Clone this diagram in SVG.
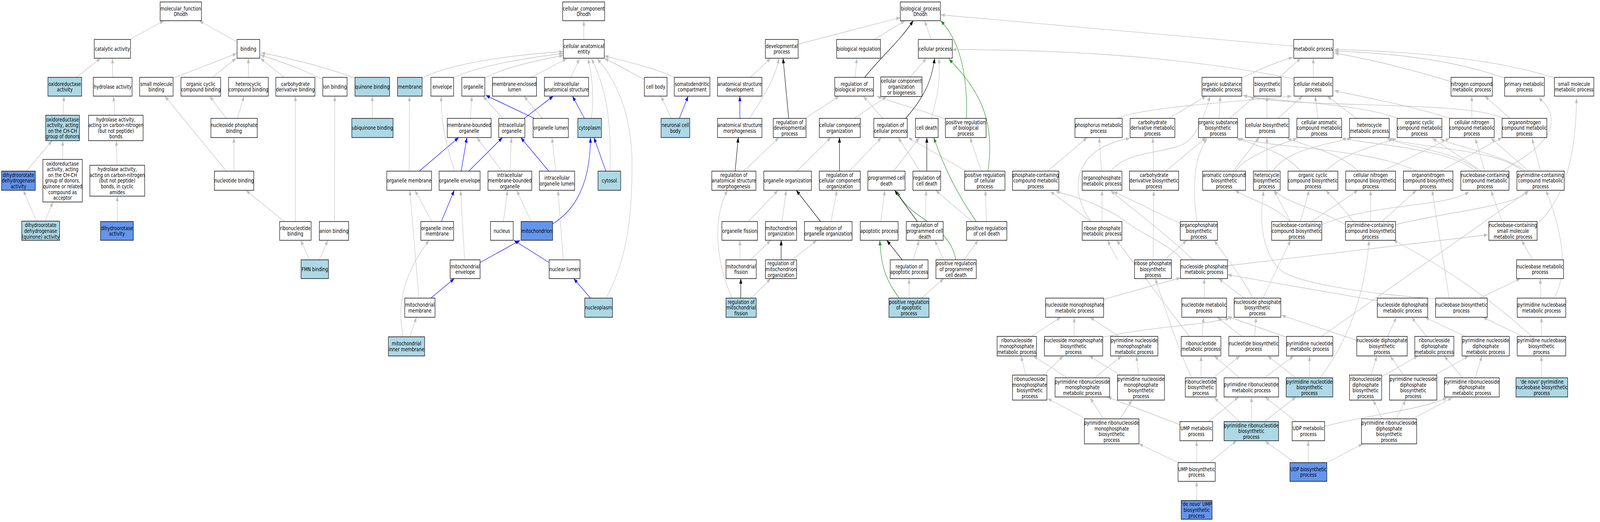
<svg xmlns="http://www.w3.org/2000/svg" width="5061" height="1336" viewBox="0 0 5061 1336">
<style>
.n rect{fill:#fff;stroke:#000;stroke-width:1.4}
.lb rect{fill:#add8e6}
.cb rect{fill:#6495ed}
text{font-family:'DejaVu Sans','Liberation Sans',sans-serif;font-size:13.5px;text-anchor:middle;fill:#000}
.e{fill:none;stroke:#c0c0c0;stroke-width:1.33;marker-end:url(#ag)}
.eb{fill:none;stroke:#0000ff;stroke-width:1.33;marker-end:url(#ab)}
.ek{fill:none;stroke:#000;stroke-width:1.33;marker-end:url(#ak)}
.eg{fill:none;stroke:#228b22;stroke-width:1.33;marker-end:url(#agr)}
</style>
<defs>
<marker id="ag" viewBox="0 0 13 9.4" refX="13" refY="4.7" markerWidth="13" markerHeight="9.4" markerUnits="userSpaceOnUse" orient="auto"><path d="M0,0L13,4.7L0,9.4z" fill="#c0c0c0"/></marker>
<marker id="ab" viewBox="0 0 13 9.4" refX="13" refY="4.7" markerWidth="13" markerHeight="9.4" markerUnits="userSpaceOnUse" orient="auto"><path d="M0,0L13,4.7L0,9.4z" fill="#0000ff"/></marker>
<marker id="ak" viewBox="0 0 13 9.4" refX="13" refY="4.7" markerWidth="13" markerHeight="9.4" markerUnits="userSpaceOnUse" orient="auto"><path d="M0,0L13,4.7L0,9.4z" fill="#000"/></marker>
<marker id="agr" viewBox="0 0 13 9.4" refX="13" refY="4.7" markerWidth="13" markerHeight="9.4" markerUnits="userSpaceOnUse" orient="auto"><path d="M0,0L13,4.7L0,9.4z" fill="#228b22"/></marker>
</defs>
<rect width="5061" height="1336" fill="#fff"/>
<g id="diagram" transform="scale(0.807,1)">
<g id="edges">
<path class="e" d="M412,101L520,53"/>
<path class="e" d="M751,107L632,53"/>
<path class="e" d="M242,198L319,149"/>
<path class="e" d="M357,198L357,149"/>
<path class="e" d="M549,200L751,137"/>
<path class="e" d="M674,198L749,149"/>
<path class="e" d="M788,198L788,149"/>
<path class="e" d="M901,198L826,149"/>
<path class="e" d="M1024,204Q950,172 826,141"/>
<path class="e" d="M1126,200Q1000,162 828,135"/>
<path class="e" d="M1181,303L1181,246"/>
<path class="e" d="M200,295L203,246"/>
<path class="e" d="M365,295L360,246"/>
<path class="e" d="M718,303L665,246"/>
<path class="e" d="M753,303L774,246"/>
<path class="e" d="M84,438L165,360"/>
<path class="e" d="M199,408L199,360"/>
<path class="e" d="M371,423L369,360"/>
<path class="e" d="M718,438L523,246"/>
<path class="e" d="M742,438L742,352"/>
<path class="e" d="M116,566L74,487"/>
<path class="e" d="M143,566L168,517"/>
<path class="e" d="M372,567L372,502"/>
<path class="e" d="M902,567L780,487"/>
<path class="e" d="M937,567L937,246"/>
<path class="e" d="M982,665L954,615"/>
<path class="e" d="M1013,665L1040,615"/>
<path class="e" d="M1061,567L1062,246"/>
<path class="e" d="M1852,101L1852,53"/>
<path class="e" d="M1339,200C1420,165 1600,142 1787,132"/>
<path class="e" d="M1439,200C1500,172 1650,150 1787,137"/>
<path class="e" d="M1538,200C1590,175 1700,155 1787,142"/>
<path class="e" d="M1685,198L1798,150"/>
<path class="e" d="M1811,198L1838,150"/>
<path class="e" d="M1876,303C1885,250 1880,200 1865,150"/>
<path class="e" d="M1935,438C1940,300 1920,220 1876,150"/>
<path class="e" d="M1923,763C1990,660 2005,560 2005,420C2005,300 1960,210 1894,150"/>
<path class="e" d="M2139,198C2080,175 2000,160 1917,143"/>
<path class="e" d="M2044,204C2000,185 1960,165 1917,150"/>
<path class="e" d="M1595,303L1532,246"/>
<path class="eb" d="M1695,303L1541,244"/>
<path class="e" d="M1720,303L1662,246"/>
<path class="eb" d="M1663,303L1755,246"/>
<path class="eb" d="M1854,303L1816,246"/>
<path class="e" d="M1492,303L1497,246"/>
<path class="e" d="M1298,438L1299,246"/>
<path class="eb" d="M1330,438L1455,352"/>
<path class="eb" d="M1463,438L1481,352"/>
<path class="eb" d="M1487,438L1594,352"/>
<path class="e" d="M1442,438C1410,360 1398,300 1400,246"/>
<path class="e" d="M1592,438L1513,352"/>
<path class="e" d="M1618,438L1622,352"/>
<path class="eb" d="M1741,438L1652,352"/>
<path class="e" d="M1763,438L1751,352"/>
<path class="eb" d="M1922,438L1884,352"/>
<path class="e" d="M1370,567L1316,487"/>
<path class="eb" d="M1400,567L1441,487"/>
<path class="e" d="M1597,567L1610,487"/>
<path class="e" d="M1685,567L1639,487"/>
<path class="eb" d="M1753,573C1840,530 1873,450 1873,352"/>
<path class="eb" d="M1523,672L1650,615"/>
<path class="eb" d="M1742,672L1630,615"/>
<path class="e" d="M1474,665L1461,487"/>
<path class="e" d="M1787,665L1770,487"/>
<path class="eb" d="M1873,763L1820,713"/>
<path class="eb" d="M1367,763L1441,713"/>
<path class="e" d="M1329,763L1300,487"/>
<path class="e" d="M1300,862L1321,812"/>
<path class="e" d="M1279,862C1255,770 1290,690 1361,615"/>
<path class="e" d="M2129,303L2097,246"/>
<path class="eb" d="M2155,303L2183,246"/>
<path class="e" d="M2532,113L2856,45"/>
<path class="e" d="M2773,101L2871,53"/>
<path class="e" d="M2954,101L2933,53"/>
<path class="e" d="M4104,118L2984,38"/>
<path class="ek" d="M2743,198C2800,140 2850,110 2897,53"/>
<path class="e" d="M2713,198L2718,149"/>
<path class="e" d="M2887,197L2939,149"/>
<path class="eg" d="M3066,303C3070,180 3040,100 2984,53"/>
<path class="e" d="M3000,305C2900,275 2830,262 2781,246"/>
<path class="e" d="M4105,202C3850,160 3500,127 3021,127"/>
<path class="e" d="M2380,198L2445,149"/>
<path class="eb" d="M2347,303L2347,246"/>
<path class="e" d="M2378,303C2420,250 2460,200 2471,149"/>
<path class="ek" d="M2502,303L2484,149"/>
<path class="e" d="M2554,303L2662,246"/>
<path class="e" d="M2710,303L2813,247"/>
<path class="e" d="M2800,303L2739,246"/>
<path class="ek" d="M2873,303C2930,250 2955,210 2965,149"/>
<path class="e" d="M2955,303C2975,240 2985,200 2978,149"/>
<path class="eg" d="M3134,438C3155,320 3120,240 3010,151"/>
<path class="e" d="M3113,438L3077,352"/>
<path class="e" d="M3065,438L2881,352"/>
<path class="ek" d="M2332,438L2342,352"/>
<path class="e" d="M2360,438L2471,352"/>
<path class="e" d="M2528,438L2636,352"/>
<path class="ek" d="M2663,438L2663,352"/>
<path class="e" d="M2694,438L2796,352"/>
<path class="e" d="M2834,438L2917,352"/>
<path class="ek" d="M2940,438L2940,352"/>
<path class="e" d="M2919,438L2849,352"/>
<path class="e" d="M3129,567L3126,487"/>
<path class="e" d="M3084,567L2968,487"/>
<path class="eg" d="M3097,567C3040,500 3000,440 2962,352"/>
<path class="e" d="M2374,567L2468,487"/>
<path class="e" d="M2481,567L2494,487"/>
<path class="ek" d="M2603,567L2526,487"/>
<path class="e" d="M2636,567L2655,487"/>
<path class="e" d="M2794,567L2807,487"/>
<path class="ek" d="M2910,567L2838,487"/>
<path class="e" d="M2935,567L2938,487"/>
<path class="eg" d="M3032,665C3010,570 2880,560 2846,489"/>
<path class="e" d="M2994,665L2965,615"/>
<path class="e" d="M3058,665L3103,615"/>
<path class="e" d="M2348,665L2347,615"/>
<path class="e" d="M2381,665L2445,615"/>
<path class="ek" d="M2478,665L2478,615"/>
<path class="e" d="M2513,665L2591,615"/>
<path class="e" d="M2323,763C2285,700 2270,620 2280,560C2285,530 2295,505 2308,487"/>
<path class="ek" d="M2350,763L2350,713"/>
<path class="e" d="M2383,763L2445,713"/>
<path class="e" d="M2897,665L2916,615"/>
<path class="ek" d="M2862,665L2813,615"/>
<path class="e" d="M2884,763L2884,713"/>
<path class="e" d="M2923,763L2994,713"/>
<path class="eg" d="M2852,763C2815,720 2795,690 2791,615"/>
<path class="e" d="M3939,200Q4040,160 4101,147"/>
<path class="e" d="M4058,198L4126,149"/>
<path class="e" d="M4166,198L4166,149"/>
<path class="e" d="M4603,209C4450,170 4300,145 4233,136"/>
<path class="e" d="M4773,200C4600,150 4400,135 4233,131"/>
<path class="e" d="M4931,200C4750,150 4450,130 4233,127"/>
<path class="e" d="M3545,303C3620,275 3900,262 4097,246"/>
<path class="e" d="M3708,303L3826,246"/>
<path class="e" d="M3867,303L3871,246"/>
<path class="e" d="M3900,303L3982,246"/>
<path class="e" d="M4019,303L4019,246"/>
<path class="e" d="M4054,303L4132,246"/>
<path class="e" d="M4181,303L4172,246"/>
<path class="e" d="M4304,303L4210,246"/>
<path class="e" d="M4434,303C4300,262 4050,262 3943,244"/>
<path class="e" d="M4770,303C4650,255 4100,280 3943,244"/>
<path class="e" d="M4600,303C4450,265 4300,245 4233,232"/>
<path class="e" d="M4669,303L4669,246"/>
<path class="e" d="M4790,303L4710,246"/>
<path class="e" d="M3323,438L3449,352"/>
<path class="e" d="M3494,438L3487,352"/>
<path class="e" d="M3524,438C3580,380 3720,395 3770,360C3810,330 3825,280 3839,246"/>
<path class="e" d="M3660,438L3657,352"/>
<path class="e" d="M3698,438L3826,352"/>
<path class="e" d="M3912,438L3994,352"/>
<path class="e" d="M3918,438C3960,395 4060,370 4115,354"/>
<path class="e" d="M4019,438L4019,352"/>
<path class="e" d="M4037,438C4080,385 4200,370 4287,354"/>
<path class="e" d="M4206,438C4260,390 4380,370 4430,354"/>
<path class="e" d="M4125,438C4080,390 3980,370 3922,354"/>
<path class="e" d="M4308,438C4250,390 4130,370 4083,354"/>
<path class="e" d="M4385,438L4599,354"/>
<path class="e" d="M4570,438L4765,352"/>
<path class="e" d="M4494,438C4350,380 4050,380 3929,354"/>
<path class="e" d="M4680,438C4600,380 4350,370 4256,354"/>
<path class="e" d="M4690,438C4620,385 4450,375 4400,354"/>
<path class="e" d="M4700,438L4544,354"/>
<path class="e" d="M4710,438L4680,354"/>
<path class="e" d="M4765,438C4840,400 4930,360 4920,300C4915,270 4890,258 4881,249"/>
<path class="e" d="M4830,438C4750,380 4500,380 4403,354"/>
<path class="e" d="M4840,438C4760,390 4600,375 4570,354"/>
<path class="e" d="M4850,438L4730,354"/>
<path class="e" d="M4887,438L4860,354"/>
<path class="e" d="M3496,567L3496,487"/>
<path class="e" d="M3461,567C3390,490 3400,380 3584,354"/>
<path class="e" d="M3461,567L3332,490"/>
<path class="e" d="M3744,572L3532,490"/>
<path class="e" d="M3797,567C3780,470 3790,400 3829,354"/>
<path class="e" d="M4094,567L4041,487"/>
<path class="e" d="M4094,567C4030,520 3960,510 3918,487"/>
<path class="e" d="M4125,567L4153,487"/>
<path class="e" d="M4160,567L4308,487"/>
<path class="e" d="M4193,575C4350,520 4600,530 4660,490"/>
<path class="e" d="M4348,567L4348,487"/>
<path class="e" d="M4384,567L4493,487"/>
<path class="e" d="M4293,567C4250,520 4220,500 4206,487"/>
<path class="e" d="M4268,575C4200,540 4080,520 4041,487"/>
<path class="e" d="M4427,575C4600,540 4800,530 4849,489"/>
<path class="e" d="M4765,567L4730,488"/>
<path class="e" d="M4876,573C4950,520 5000,420 5001,251"/>
<path class="e" d="M3545,665L3513,615"/>
<path class="e" d="M3658,665L3660,488"/>
<path class="e" d="M3694,665L3765,615"/>
<path class="e" d="M3785,665C3700,600 3600,540 3523,488"/>
<path class="e" d="M3894,680L4720,601"/>
<path class="e" d="M3752,665C3700,620 3620,600 3560,560C3480,520 3420,505 3349,490"/>
<path class="e" d="M4862,665L4827,615"/>
<path class="e" d="M3502,766L3745,711"/>
<path class="e" d="M3820,763L3820,713"/>
<path class="e" d="M3946,763L3866,713"/>
<path class="e" d="M3974,763C3950,720 3880,650 3852,615"/>
<path class="e" d="M4006,763L4094,615"/>
<path class="e" d="M4371,770L3894,703"/>
<path class="e" d="M4694,763L4823,713"/>
<path class="e" d="M4597,763L4543,487"/>
<path class="e" d="M4557,765C4300,750 4100,720 4060,690C4000,640 3995,560 4009,488"/>
<path class="e" d="M4888,763L4886,713"/>
<path class="e" d="M4930,763C4975,700 4960,600 4904,487"/>
<path class="e" d="M3271,861L3365,812"/>
<path class="e" d="M3407,861L3408,812"/>
<path class="e" d="M3498,863C3700,830 3800,835 3901,814"/>
<path class="e" d="M3549,861L3458,812"/>
<path class="e" d="M3813,861L3818,812"/>
<path class="e" d="M3773,861L3542,615"/>
<path class="e" d="M3939,861L3862,812"/>
<path class="e" d="M3980,861L3985,812"/>
<path class="e" d="M4081,863L3894,810"/>
<path class="e" d="M4192,861L4849,488"/>
<path class="e" d="M4401,861L4430,812"/>
<path class="e" d="M4304,871L4065,807"/>
<path class="e" d="M4525,861L4478,812"/>
<path class="e" d="M4648,861L4520,812"/>
<path class="e" d="M4890,861L4890,812"/>
<path class="e" d="M4830,861L4704,812"/>
<path class="e" d="M4859,861C4750,780 4600,690 4420,615"/>
<path class="e" d="M3254,960L3239,911"/>
<path class="e" d="M3310,960L3373,911"/>
<path class="e" d="M3385,967L3278,911"/>
<path class="e" d="M3473,967L3558,911"/>
<path class="e" d="M3554,960L3455,911"/>
<path class="e" d="M3612,960L3605,911"/>
<path class="e" d="M3810,967L3810,911"/>
<path class="e" d="M3849,967L3933,911"/>
<path class="e" d="M3781,967C3740,900 3700,800 3665,713"/>
<path class="e" d="M3932,967L3852,911"/>
<path class="e" d="M4011,967L4104,911"/>
<path class="e" d="M4154,967L4154,911"/>
<path class="e" d="M4111,967L4021,911"/>
<path class="e" d="M4188,967C4270,880 4330,760 4343,615"/>
<path class="e" d="M4349,960L4368,911"/>
<path class="e" d="M4383,964L4498,911"/>
<path class="e" d="M4452,960L4410,911"/>
<path class="e" d="M4552,960L4659,911"/>
<path class="e" d="M4640,967L4581,911"/>
<path class="e" d="M4680,967L4701,911"/>
<path class="e" d="M4890,967L4890,911"/>
<path class="e" d="M3445,1072L3323,1020"/>
<path class="e" d="M3500,1072L3458,1018"/>
<path class="e" d="M3553,1072L3591,1024"/>
<path class="e" d="M3743,1087L3513,1016"/>
<path class="e" d="M3834,1079L3929,1016"/>
<path class="e" d="M3932,1079L3852,1018"/>
<path class="e" d="M3970,1079L3970,1016"/>
<path class="e" d="M4011,1079L4111,1016"/>
<path class="e" d="M4111,1079L4013,1016"/>
<path class="e" d="M4202,1091C4350,1060 4500,1050 4591,1018"/>
<path class="e" d="M4385,1072L4356,1024"/>
<path class="e" d="M4430,1072L4459,1024"/>
<path class="e" d="M4481,1072L4607,1018"/>
<path class="e" d="M3737,1184L3613,1136"/>
<path class="e" d="M3796,1184L3796,1128"/>
<path class="e" d="M3836,1184L3923,1128"/>
<path class="e" d="M4150,1184L4150,1128"/>
<path class="e" d="M4209,1184L4323,1136"/>
<path class="e" d="M4108,1184L4013,1129"/>
<path class="e" d="M3796,1281L3796,1232"/>
</g>
<g id="n_mf" class="n"><rect x="508" y="5" width="131" height="48"/><text x="573.5" y="26.7">molecular_function<tspan x="573.5" dy="14.6">Dhodh</tspan></text></g>
<g id="n_catalytic" class="n"><rect x="299" y="101" width="115" height="48"/><text x="356.5" y="130">catalytic activity</text></g>
<g id="n_binding" class="n"><rect x="752" y="101" width="72" height="48"/><text x="788" y="130">binding</text></g>
<g id="n_oxido" class="n lb"><rect x="152" y="198" width="107" height="48"/><text x="205.5" y="219.7">oxidoreductase<tspan x="205.5" dy="14.6">activity</tspan></text></g>
<g id="n_hydrolase" class="n"><rect x="296" y="198" width="123" height="48"/><text x="357.5" y="227">hydrolase activity</text></g>
<g id="n_smb" class="n"><rect x="443" y="198" width="106" height="48"/><text x="496" y="219.7">small molecule<tspan x="496" dy="14.6">binding</tspan></text></g>
<g id="n_occb" class="n"><rect x="574" y="198" width="126" height="48"/><text x="637" y="219.7">organic cyclic<tspan x="637" dy="14.6">compound binding</tspan></text></g>
<g id="n_hcb" class="n"><rect x="725" y="198" width="126" height="48"/><text x="788" y="219.7">heterocyclic<tspan x="788" dy="14.6">compound binding</tspan></text></g>
<g id="n_cdb" class="n"><rect x="875" y="198" width="124" height="48"/><text x="937" y="219.7">carbohydrate<tspan x="937" dy="14.6">derivative binding</tspan></text></g>
<g id="n_ionb" class="n"><rect x="1024" y="198" width="77" height="48"/><text x="1062.5" y="227">ion binding</text></g>
<g id="n_quinb" class="n lb"><rect x="1126" y="198" width="110" height="48"/><text x="1181" y="227">quinone binding</text></g>
<g id="n_oxchch" class="n lb"><rect x="145" y="295" width="107" height="65"/><text x="198.5" y="310.6">oxidoreductase<tspan x="198.5" dy="14.6">activity, acting</tspan><tspan x="198.5" dy="14.6">on the CH-CH</tspan><tspan x="198.5" dy="14.6">group of donors</tspan></text></g>
<g id="n_hydcn" class="n"><rect x="281" y="295" width="173" height="65"/><text x="367.5" y="310.6">hydrolase activity,<tspan x="367.5" dy="14.6">acting on carbon-nitrogen</tspan><tspan x="367.5" dy="14.6">(but not peptide)</tspan><tspan x="367.5" dy="14.6">bonds</tspan></text></g>
<g id="n_npb" class="n"><rect x="669" y="303" width="147" height="49"/><text x="742.5" y="325.2">nucleoside phosphate<tspan x="742.5" dy="14.6">binding</tspan></text></g>
<g id="n_ubqb" class="n lb"><rect x="1116" y="303" width="131" height="49"/><text x="1181.5" y="332.5">ubiquinone binding</text></g>
<g id="n_dhod" class="n cb"><rect x="5" y="438" width="107" height="49"/><text x="58.5" y="452.9">dihydroorotate<tspan x="58.5" dy="14.6">dehydrogenase</tspan><tspan x="58.5" dy="14.6">activity</tspan></text></g>
<g id="n_oxq" class="n"><rect x="136" y="408" width="125" height="109"/><text x="198.5" y="423.7">oxidoreductase<tspan x="198.5" dy="14.6">activity, acting</tspan><tspan x="198.5" dy="14.6">on the CH-CH</tspan><tspan x="198.5" dy="14.6">group of donors,</tspan><tspan x="198.5" dy="14.6">quinone or related</tspan><tspan x="198.5" dy="14.6">compound as</tspan><tspan x="198.5" dy="14.6">acceptor</tspan></text></g>
<g id="n_hydcyc" class="n"><rect x="285" y="423" width="174" height="79"/><text x="372" y="438.3">hydrolase activity,<tspan x="372" dy="14.6">acting on carbon-nitrogen</tspan><tspan x="372" dy="14.6">(but not peptide)</tspan><tspan x="372" dy="14.6">bonds, in cyclic</tspan><tspan x="372" dy="14.6">amides</tspan></text></g>
<g id="n_ntb" class="n"><rect x="680" y="438" width="125" height="49"/><text x="742.5" y="467.5">nucleotide binding</text></g>
<g id="n_dhodq" class="n lb"><rect x="69" y="566" width="120" height="49"/><text x="129" y="581.4">dihydroorotate<tspan x="129" dy="14.6">dehydrogenase</tspan><tspan x="129" dy="14.6">(quinone) activity</tspan></text></g>
<g id="n_dhoase" class="n cb"><rect x="319" y="567" width="104" height="48"/><text x="371" y="588.7">dihydroorotase<tspan x="371" dy="14.6">activity</tspan></text></g>
<g id="n_rnb" class="n"><rect x="887" y="567" width="100" height="48"/><text x="937" y="588.7">ribonucleotide<tspan x="937" dy="14.6">binding</tspan></text></g>
<g id="n_anb" class="n"><rect x="1013" y="567" width="93" height="48"/><text x="1059.5" y="596">anion binding</text></g>
<g id="n_fmn" class="n lb"><rect x="955" y="665" width="87" height="48"/><text x="998.5" y="694">FMN binding</text></g>
<g id="n_cc" class="n"><rect x="1785" y="5" width="133" height="48"/><text x="1851.5" y="26.7">cellular_component<tspan x="1851.5" dy="14.6">Dhodh</tspan></text></g>
<g id="n_cae" class="n"><rect x="1787" y="101" width="130" height="48"/><text x="1852" y="122.7">cellular anatomical<tspan x="1852" dy="14.6">entity</tspan></text></g>
<g id="n_membrane" class="n lb"><rect x="1261" y="198" width="78" height="48"/><text x="1300" y="227">membrane</text></g>
<g id="n_envelope" class="n"><rect x="1367" y="198" width="72" height="48"/><text x="1403" y="227">envelope</text></g>
<g id="n_organelle" class="n"><rect x="1465" y="198" width="73" height="48"/><text x="1501.5" y="227">organelle</text></g>
<g id="n_mel" class="n"><rect x="1562" y="198" width="140" height="48"/><text x="1632" y="219.7">membrane-enclosed<tspan x="1632" dy="14.6">lumen</tspan></text></g>
<g id="n_ias" class="n"><rect x="1727" y="198" width="140" height="48"/><text x="1797" y="219.7">intracellular<tspan x="1797" dy="14.6">anatomical structure</tspan></text></g>
<g id="n_cellbody" class="n"><rect x="2044" y="198" width="72" height="48"/><text x="2080" y="227">cell body</text></g>
<g id="n_somato" class="n"><rect x="2139" y="198" width="113" height="48"/><text x="2195.5" y="219.7">somatodendritic<tspan x="2195.5" dy="14.6">compartment</tspan></text></g>
<g id="n_mbo" class="n"><rect x="1419" y="303" width="139" height="49"/><text x="1488.5" y="325.2">membrane-bounded<tspan x="1488.5" dy="14.6">organelle</tspan></text></g>
<g id="n_io" class="n"><rect x="1582" y="303" width="83" height="49"/><text x="1623.5" y="325.2">intracellular<tspan x="1623.5" dy="14.6">organelle</tspan></text></g>
<g id="n_orglumen" class="n"><rect x="1691" y="303" width="112" height="49"/><text x="1747" y="332.5">organelle lumen</text></g>
<g id="n_cytoplasm" class="n lb"><rect x="1833" y="303" width="75" height="49"/><text x="1870.5" y="332.5">cytoplasm</text></g>
<g id="n_ncb" class="n lb"><rect x="2097" y="303" width="91" height="49"/><text x="2142.5" y="325.2">neuronal cell<tspan x="2142.5" dy="14.6">body</tspan></text></g>
<g id="n_orgmem" class="n"><rect x="1227" y="438" width="142" height="49"/><text x="1298" y="467.5">organelle membrane</text></g>
<g id="n_orgenv" class="n"><rect x="1393" y="438" width="130" height="49"/><text x="1458" y="467.5">organelle envelope</text></g>
<g id="n_imbo" class="n"><rect x="1548" y="438" width="139" height="49"/><text x="1617.5" y="452.9">intracellular<tspan x="1617.5" dy="14.6">membrane-bounded</tspan><tspan x="1617.5" dy="14.6">organelle</tspan></text></g>
<g id="n_iol" class="n"><rect x="1711" y="438" width="112" height="49"/><text x="1767" y="460.2">intracellular<tspan x="1767" dy="14.6">organelle lumen</tspan></text></g>
<g id="n_cytosol" class="n lb"><rect x="1897" y="438" width="72" height="49"/><text x="1933" y="467.5">cytosol</text></g>
<g id="n_oim" class="n"><rect x="1335" y="567" width="104" height="48"/><text x="1387" y="588.7">organelle inner<tspan x="1387" dy="14.6">membrane</tspan></text></g>
<g id="n_nucleus" class="n"><rect x="1556" y="567" width="72" height="48"/><text x="1592" y="596">nucleus</text></g>
<g id="n_mito" class="n cb"><rect x="1653" y="567" width="100" height="48"/><text x="1703" y="596">mitochondrion</text></g>
<g id="n_mitoenv" class="n"><rect x="1428" y="665" width="95" height="48"/><text x="1475.5" y="686.7">mitochondrial<tspan x="1475.5" dy="14.6">envelope</tspan></text></g>
<g id="n_nuclumen" class="n"><rect x="1742" y="665" width="98" height="48"/><text x="1791" y="694">nuclear lumen</text></g>
<g id="n_mitomem" class="n"><rect x="1284" y="763" width="96" height="49"/><text x="1332" y="785.2">mitochondrial<tspan x="1332" dy="14.6">membrane</tspan></text></g>
<g id="n_nucleoplasm" class="n lb"><rect x="1855" y="763" width="88" height="49"/><text x="1899" y="792.5">nucleoplasm</text></g>
<g id="n_mim" class="n lb"><rect x="1232" y="862" width="115" height="49"/><text x="1289.5" y="884.2">mitochondrial<tspan x="1289.5" dy="14.6">inner membrane</tspan></text></g>
<g id="n_bp" class="n"><rect x="2856" y="5" width="127" height="48"/><text x="2919.5" y="26.7">biological_process<tspan x="2919.5" dy="14.6">Dhodh</tspan></text></g>
<g id="n_devp" class="n"><rect x="2428" y="101" width="104" height="48"/><text x="2480" y="122.7">developmental<tspan x="2480" dy="14.6">process</tspan></text></g>
<g id="n_bioreg" class="n"><rect x="2654" y="101" width="139" height="48"/><text x="2723.5" y="130">biological regulation</text></g>
<g id="n_cellp" class="n"><rect x="2913" y="101" width="108" height="48"/><text x="2967" y="130">cellular process</text></g>
<g id="n_metp" class="n"><rect x="4104" y="101" width="125" height="48"/><text x="4166.5" y="130">metabolic process</text></g>
<g id="n_asd" class="n"><rect x="2276" y="198" width="141" height="48"/><text x="2346.5" y="219.7">anatomical structure<tspan x="2346.5" dy="14.6">development</tspan></text></g>
<g id="n_rbp" class="n"><rect x="2648" y="198" width="123" height="48"/><text x="2709.5" y="219.7">regulation of<tspan x="2709.5" dy="14.6">biological process</tspan></text></g>
<g id="n_ccoob" class="n"><rect x="2794" y="197" width="131" height="50"/><text x="2859.5" y="212.4">cellular component<tspan x="2859.5" dy="14.6">organization</tspan><tspan x="2859.5" dy="14.6">or biogenesis</tspan></text></g>
<g id="n_osmp" class="n"><rect x="3813" y="198" width="126" height="48"/><text x="3876" y="219.7">organic substance<tspan x="3876" dy="14.6">metabolic process</tspan></text></g>
<g id="n_biosyn" class="n"><rect x="3977" y="198" width="87" height="48"/><text x="4020.5" y="219.7">biosynthetic<tspan x="4020.5" dy="14.6">process</tspan></text></g>
<g id="n_cmp" class="n"><rect x="4105" y="198" width="123" height="48"/><text x="4166.5" y="219.7">cellular metabolic<tspan x="4166.5" dy="14.6">process</tspan></text></g>
<g id="n_ncmp" class="n"><rect x="4603" y="198" width="131" height="48"/><text x="4668.5" y="219.7">nitrogen compound<tspan x="4668.5" dy="14.6">metabolic process</tspan></text></g>
<g id="n_pmp" class="n"><rect x="4773" y="198" width="126" height="48"/><text x="4836" y="219.7">primary metabolic<tspan x="4836" dy="14.6">process</tspan></text></g>
<g id="n_smmp" class="n"><rect x="4931" y="198" width="125" height="48"/><text x="4993.5" y="219.7">small molecule<tspan x="4993.5" dy="14.6">metabolic process</tspan></text></g>
<g id="n_asm" class="n"><rect x="2276" y="303" width="141" height="49"/><text x="2346.5" y="325.2">anatomical structure<tspan x="2346.5" dy="14.6">morphogenesis</tspan></text></g>
<g id="n_rdp" class="n"><rect x="2453" y="303" width="104" height="49"/><text x="2505" y="317.9">regulation of<tspan x="2505" dy="14.6">developmental</tspan><tspan x="2505" dy="14.6">process</tspan></text></g>
<g id="n_cco" class="n"><rect x="2599" y="303" width="130" height="49"/><text x="2664" y="325.2">cellular component<tspan x="2664" dy="14.6">organization</tspan></text></g>
<g id="n_rcp" class="n"><rect x="2772" y="303" width="106" height="49"/><text x="2825" y="325.2">regulation of<tspan x="2825" dy="14.6">cellular process</tspan></text></g>
<g id="n_celldeath" class="n"><rect x="2904" y="303" width="72" height="49"/><text x="2940" y="332.5">cell death</text></g>
<g id="n_prbp" class="n"><rect x="2999" y="303" width="129" height="49"/><text x="3063.5" y="317.9">positive regulation<tspan x="3063.5" dy="14.6">of biological</tspan><tspan x="3063.5" dy="14.6">process</tspan></text></g>
<g id="n_phosmp" class="n"><rect x="3410" y="303" width="150" height="49"/><text x="3485" y="325.2">phosphorus metabolic<tspan x="3485" dy="14.6">process</tspan></text></g>
<g id="n_cdmp" class="n"><rect x="3585" y="303" width="142" height="49"/><text x="3656" y="317.9">carbohydrate<tspan x="3656" dy="14.6">derivative metabolic</tspan><tspan x="3656" dy="14.6">process</tspan></text></g>
<g id="n_osbp" class="n"><rect x="3802" y="303" width="124" height="49"/><text x="3864" y="317.9">organic substance<tspan x="3864" dy="14.6">biosynthetic</tspan><tspan x="3864" dy="14.6">process</tspan></text></g>
<g id="n_cbp" class="n"><rect x="3951" y="303" width="138" height="49"/><text x="4020" y="325.2">cellular biosynthetic<tspan x="4020" dy="14.6">process</tspan></text></g>
<g id="n_cacmp" class="n"><rect x="4114" y="303" width="142" height="49"/><text x="4185" y="317.9">cellular aromatic<tspan x="4185" dy="14.6">compound metabolic</tspan><tspan x="4185" dy="14.6">process</tspan></text></g>
<g id="n_hmp" class="n"><rect x="4281" y="303" width="126" height="49"/><text x="4344" y="325.2">heterocycle<tspan x="4344" dy="14.6">metabolic process</tspan></text></g>
<g id="n_occmp" class="n"><rect x="4432" y="303" width="142" height="49"/><text x="4503" y="317.9">organic cyclic<tspan x="4503" dy="14.6">compound metabolic</tspan><tspan x="4503" dy="14.6">process</tspan></text></g>
<g id="n_cncmp" class="n"><rect x="4598" y="303" width="142" height="49"/><text x="4669" y="317.9">cellular nitrogen<tspan x="4669" dy="14.6">compound metabolic</tspan><tspan x="4669" dy="14.6">process</tspan></text></g>
<g id="n_oncmp" class="n"><rect x="4765" y="303" width="142" height="49"/><text x="4836" y="317.9">organonitrogen<tspan x="4836" dy="14.6">compound metabolic</tspan><tspan x="4836" dy="14.6">process</tspan></text></g>
<g id="n_rasm" class="n"><rect x="2258" y="438" width="140" height="49"/><text x="2328" y="452.9">regulation of<tspan x="2328" dy="14.6">anatomical structure</tspan><tspan x="2328" dy="14.6">morphogenesis</tspan></text></g>
<g id="n_oo" class="n"><rect x="2423" y="438" width="151" height="49"/><text x="2498.5" y="467.5">organelle organization</text></g>
<g id="n_rcco" class="n"><rect x="2599" y="438" width="130" height="49"/><text x="2664" y="452.9">regulation of<tspan x="2664" dy="14.6">cellular component</tspan><tspan x="2664" dy="14.6">organization</tspan></text></g>
<g id="n_pcd" class="n"><rect x="2753" y="438" width="118" height="49"/><text x="2812" y="460.2">programmed cell<tspan x="2812" dy="14.6">death</tspan></text></g>
<g id="n_rcd" class="n"><rect x="2896" y="438" width="88" height="49"/><text x="2940" y="460.2">regulation of<tspan x="2940" dy="14.6">cell death</tspan></text></g>
<g id="n_prcp" class="n"><rect x="3060" y="438" width="128" height="49"/><text x="3124" y="452.9">positive regulation<tspan x="3124" dy="14.6">of cellular</tspan><tspan x="3124" dy="14.6">process</tspan></text></g>
<g id="n_pccmp" class="n"><rect x="3212" y="438" width="147" height="49"/><text x="3285.5" y="452.9">phosphate-containing<tspan x="3285.5" dy="14.6">compound metabolic</tspan><tspan x="3285.5" dy="14.6">process</tspan></text></g>
<g id="n_opmp" class="n"><rect x="3433" y="438" width="126" height="49"/><text x="3496" y="460.2">organophosphate<tspan x="3496" dy="14.6">metabolic process</tspan></text></g>
<g id="n_cdbp" class="n"><rect x="3583" y="438" width="156" height="49"/><text x="3661" y="452.9">carbohydrate<tspan x="3661" dy="14.6">derivative biosynthetic</tspan><tspan x="3661" dy="14.6">process</tspan></text></g>
<g id="n_acbp" class="n"><rect x="3815" y="438" width="136" height="49"/><text x="3883" y="452.9">aromatic compound<tspan x="3883" dy="14.6">biosynthetic</tspan><tspan x="3883" dy="14.6">process</tspan></text></g>
<g id="n_hbp" class="n"><rect x="3976" y="438" width="85" height="49"/><text x="4018.5" y="452.9">heterocycle<tspan x="4018.5" dy="14.6">biosynthetic</tspan><tspan x="4018.5" dy="14.6">process</tspan></text></g>
<g id="n_occbp" class="n"><rect x="4086" y="438" width="158" height="49"/><text x="4165" y="452.9">organic cyclic<tspan x="4165" dy="14.6">compound biosynthetic</tspan><tspan x="4165" dy="14.6">process</tspan></text></g>
<g id="n_cncbp" class="n"><rect x="4269" y="438" width="158" height="49"/><text x="4348" y="452.9">cellular nitrogen<tspan x="4348" dy="14.6">compound biosynthetic</tspan><tspan x="4348" dy="14.6">process</tspan></text></g>
<g id="n_oncbp" class="n"><rect x="4452" y="438" width="157" height="49"/><text x="4530.5" y="452.9">organonitrogen<tspan x="4530.5" dy="14.6">compound biosynthetic</tspan><tspan x="4530.5" dy="14.6">process</tspan></text></g>
<g id="n_nccmp" class="n"><rect x="4634" y="438" width="153" height="49"/><text x="4710.5" y="452.9">nucleobase-containing<tspan x="4710.5" dy="14.6">compound metabolic</tspan><tspan x="4710.5" dy="14.6">process</tspan></text></g>
<g id="n_pyccmp" class="n"><rect x="4812" y="438" width="150" height="49"/><text x="4887" y="452.9">pyrimidine-containing<tspan x="4887" dy="14.6">compound metabolic</tspan><tspan x="4887" dy="14.6">process</tspan></text></g>
<g id="n_of" class="n"><rect x="2290" y="567" width="113" height="48"/><text x="2346.5" y="596">organelle fission</text></g>
<g id="n_mo" class="n"><rect x="2428" y="567" width="99" height="48"/><text x="2477.5" y="588.7">mitochondrion<tspan x="2477.5" dy="14.6">organization</tspan></text></g>
<g id="n_roo" class="n"><rect x="2552" y="567" width="151" height="48"/><text x="2627.5" y="588.7">regulation of<tspan x="2627.5" dy="14.6">organelle organization</tspan></text></g>
<g id="n_ap" class="n"><rect x="2729" y="567" width="120" height="48"/><text x="2789" y="596">apoptotic process</text></g>
<g id="n_rpcd" class="n"><rect x="2875" y="567" width="117" height="48"/><text x="2933.5" y="581.4">regulation of<tspan x="2933.5" dy="14.6">programmed cell</tspan><tspan x="2933.5" dy="14.6">death</tspan></text></g>
<g id="n_prcd" class="n"><rect x="3066" y="567" width="128" height="48"/><text x="3130" y="588.7">positive regulation<tspan x="3130" dy="14.6">of cell death</tspan></text></g>
<g id="n_rpmp" class="n"><rect x="3433" y="567" width="126" height="48"/><text x="3496" y="588.7">ribose phosphate<tspan x="3496" dy="14.6">metabolic process</tspan></text></g>
<g id="n_opbp" class="n"><rect x="3744" y="567" width="118" height="48"/><text x="3803" y="581.4">organophosphate<tspan x="3803" dy="14.6">biosynthetic</tspan><tspan x="3803" dy="14.6">process</tspan></text></g>
<g id="n_ncbp" class="n"><rect x="4034" y="567" width="159" height="48"/><text x="4113.5" y="581.4">nucleobase-containing<tspan x="4113.5" dy="14.6">compound biosynthetic</tspan><tspan x="4113.5" dy="14.6">process</tspan></text></g>
<g id="n_pcbp" class="n"><rect x="4268" y="567" width="159" height="48"/><text x="4347.5" y="581.4">pyrimidine-containing<tspan x="4347.5" dy="14.6">compound biosynthetic</tspan><tspan x="4347.5" dy="14.6">process</tspan></text></g>
<g id="n_ncsmmp" class="n"><rect x="4723" y="567" width="153" height="48"/><text x="4799.5" y="581.4">nucleobase-containing<tspan x="4799.5" dy="14.6">small molecule</tspan><tspan x="4799.5" dy="14.6">metabolic process</tspan></text></g>
<g id="n_mfis" class="n"><rect x="2303" y="665" width="96" height="48"/><text x="2351" y="686.7">mitochondrial<tspan x="2351" dy="14.6">fission</tspan></text></g>
<g id="n_rmo" class="n"><rect x="2428" y="665" width="99" height="48"/><text x="2477.5" y="679.4">regulation of<tspan x="2477.5" dy="14.6">mitochondrion</tspan><tspan x="2477.5" dy="14.6">organization</tspan></text></g>
<g id="n_rap" class="n"><rect x="2824" y="665" width="120" height="48"/><text x="2884" y="686.7">regulation of<tspan x="2884" dy="14.6">apoptotic process</tspan></text></g>
<g id="n_prpcd" class="n"><rect x="2969" y="665" width="128" height="48"/><text x="3033" y="679.4">positive regulation<tspan x="3033" dy="14.6">of programmed</tspan><tspan x="3033" dy="14.6">cell death</tspan></text></g>
<g id="n_rpbp" class="n"><rect x="3599" y="665" width="117" height="48"/><text x="3657.5" y="679.4">ribose phosphate<tspan x="3657.5" dy="14.6">biosynthetic</tspan><tspan x="3657.5" dy="14.6">process</tspan></text></g>
<g id="n_npmp" class="n"><rect x="3745" y="665" width="149" height="48"/><text x="3819.5" y="686.7">nucleoside phosphate<tspan x="3819.5" dy="14.6">metabolic process</tspan></text></g>
<g id="n_nbmp" class="n"><rect x="4811" y="665" width="149" height="48"/><text x="4885.5" y="686.7">nucleobase metabolic<tspan x="4885.5" dy="14.6">process</tspan></text></g>
<g id="n_rmf" class="n lb"><rect x="2303" y="763" width="96" height="49"/><text x="2351" y="777.9">regulation of<tspan x="2351" dy="14.6">mitochondrial</tspan><tspan x="2351" dy="14.6">fission</tspan></text></g>
<g id="n_prap" class="n lb"><rect x="2820" y="763" width="127" height="49"/><text x="2883.5" y="777.9">positive regulation<tspan x="2883.5" dy="14.6">of apoptotic</tspan><tspan x="2883.5" dy="14.6">process</tspan></text></g>
<g id="n_nmpmp" class="n"><rect x="3317" y="763" width="184" height="49"/><text x="3409" y="785.2">nucleoside monophosphate<tspan x="3409" dy="14.6">metabolic process</tspan></text></g>
<g id="n_ntmp" class="n"><rect x="3749" y="763" width="142" height="49"/><text x="3820" y="785.2">nucleotide metabolic<tspan x="3820" dy="14.6">process</tspan></text></g>
<g id="n_npbp" class="n"><rect x="3915" y="763" width="148" height="49"/><text x="3989" y="777.9">nucleoside phosphate<tspan x="3989" dy="14.6">biosynthetic</tspan><tspan x="3989" dy="14.6">process</tspan></text></g>
<g id="n_ndpmp" class="n"><rect x="4369" y="763" width="160" height="49"/><text x="4449" y="785.2">nucleoside diphosphate<tspan x="4449" dy="14.6">metabolic process</tspan></text></g>
<g id="n_nbbp" class="n"><rect x="4554" y="763" width="164" height="49"/><text x="4636" y="785.2">nucleobase biosynthetic<tspan x="4636" dy="14.6">process</tspan></text></g>
<g id="n_pnbmp" class="n"><rect x="4813" y="763" width="154" height="49"/><text x="4890" y="785.2">pyrimidine nucleobase<tspan x="4890" dy="14.6">metabolic process</tspan></text></g>
<g id="n_rmpmp" class="n"><rect x="3163" y="861" width="125" height="50"/><text x="3225.5" y="876.4">ribonucleoside<tspan x="3225.5" dy="14.6">monophosphate</tspan><tspan x="3225.5" dy="14.6">metabolic process</tspan></text></g>
<g id="n_nmpbp" class="n"><rect x="3313" y="861" width="185" height="50"/><text x="3405.5" y="876.4">nucleoside monophosphate<tspan x="3405.5" dy="14.6">biosynthetic</tspan><tspan x="3405.5" dy="14.6">process</tspan></text></g>
<g id="n_pnmpmp" class="n"><rect x="3523" y="861" width="150" height="50"/><text x="3598" y="876.4">pyrimidine nucleoside<tspan x="3598" dy="14.6">monophosphate</tspan><tspan x="3598" dy="14.6">metabolic process</tspan></text></g>
<g id="n_rnmp" class="n"><rect x="3747" y="861" width="126" height="50"/><text x="3810" y="883.7">ribonucleotide<tspan x="3810" dy="14.6">metabolic process</tspan></text></g>
<g id="n_ntbp" class="n"><rect x="3898" y="861" width="158" height="50"/><text x="3977" y="883.7">nucleotide biosynthetic<tspan x="3977" dy="14.6">process</tspan></text></g>
<g id="n_pntmp" class="n"><rect x="4081" y="861" width="147" height="50"/><text x="4154.5" y="883.7">pyrimidine nucleotide<tspan x="4154.5" dy="14.6">metabolic process</tspan></text></g>
<g id="n_ndpbp" class="n"><rect x="4304" y="861" width="160" height="50"/><text x="4384" y="876.4">nucleoside diphosphate<tspan x="4384" dy="14.6">biosynthetic</tspan><tspan x="4384" dy="14.6">process</tspan></text></g>
<g id="n_rdpmp" class="n"><rect x="4488" y="861" width="124" height="50"/><text x="4550" y="876.4">ribonucleoside<tspan x="4550" dy="14.6">diphosphate</tspan><tspan x="4550" dy="14.6">metabolic process</tspan></text></g>
<g id="n_pndpmp" class="n"><rect x="4638" y="861" width="150" height="50"/><text x="4713" y="876.4">pyrimidine nucleoside<tspan x="4713" dy="14.6">diphosphate</tspan><tspan x="4713" dy="14.6">metabolic process</tspan></text></g>
<g id="n_pnbbp" class="n"><rect x="4813" y="861" width="154" height="50"/><text x="4890" y="876.4">pyrimidine nucleobase<tspan x="4890" dy="14.6">biosynthetic</tspan><tspan x="4890" dy="14.6">process</tspan></text></g>
<g id="n_rmpbp" class="n"><rect x="3212" y="960" width="109" height="64"/><text x="3266.5" y="975.1">ribonucleoside<tspan x="3266.5" dy="14.6">monophosphate</tspan><tspan x="3266.5" dy="14.6">biosynthetic</tspan><tspan x="3266.5" dy="14.6">process</tspan></text></g>
<g id="n_prmpmp" class="n"><rect x="3347" y="967" width="173" height="49"/><text x="3433.5" y="981.9">pyrimidine ribonucleoside<tspan x="3433.5" dy="14.6">monophosphate</tspan><tspan x="3433.5" dy="14.6">metabolic process</tspan></text></g>
<g id="n_pnmpbp" class="n"><rect x="3545" y="960" width="149" height="64"/><text x="3619.5" y="975.1">pyrimidine nucleoside<tspan x="3619.5" dy="14.6">monophosphate</tspan><tspan x="3619.5" dy="14.6">biosynthetic</tspan><tspan x="3619.5" dy="14.6">process</tspan></text></g>
<g id="n_rnbp" class="n"><rect x="3760" y="967" width="98" height="49"/><text x="3809" y="981.9">ribonucleotide<tspan x="3809" dy="14.6">biosynthetic</tspan><tspan x="3809" dy="14.6">process</tspan></text></g>
<g id="n_prnmp" class="n"><rect x="3883" y="967" width="173" height="49"/><text x="3969.5" y="989.2">pyrimidine ribonucleotide<tspan x="3969.5" dy="14.6">metabolic process</tspan></text></g>
<g id="n_pntbp" class="n lb"><rect x="4080" y="967" width="148" height="49"/><text x="4154" y="981.9">pyrimidine nucleotide<tspan x="4154" dy="14.6">biosynthetic</tspan><tspan x="4154" dy="14.6">process</tspan></text></g>
<g id="n_rdpbp" class="n"><rect x="4281" y="960" width="102" height="64"/><text x="4332" y="975.1">ribonucleoside<tspan x="4332" dy="14.6">diphosphate</tspan><tspan x="4332" dy="14.6">biosynthetic</tspan><tspan x="4332" dy="14.6">process</tspan></text></g>
<g id="n_pndpbp" class="n"><rect x="4408" y="960" width="150" height="64"/><text x="4483" y="975.1">pyrimidine nucleoside<tspan x="4483" dy="14.6">diphosphate</tspan><tspan x="4483" dy="14.6">biosynthetic</tspan><tspan x="4483" dy="14.6">process</tspan></text></g>
<g id="n_prdpmp" class="n"><rect x="4582" y="967" width="174" height="49"/><text x="4669" y="981.9">pyrimidine ribonucleoside<tspan x="4669" dy="14.6">diphosphate</tspan><tspan x="4669" dy="14.6">metabolic process</tspan></text></g>
<g id="n_dnpnbp" class="n lb"><rect x="4809" y="967" width="164" height="49"/><text x="4891" y="981.9">'de novo' pyrimidine<tspan x="4891" dy="14.6">nucleobase biosynthetic</tspan><tspan x="4891" dy="14.6">process</tspan></text></g>
<g id="n_prmpbp" class="n"><rect x="3440" y="1072" width="173" height="64"/><text x="3526.5" y="1087.1">pyrimidine ribonucleoside<tspan x="3526.5" dy="14.6">monophosphate</tspan><tspan x="3526.5" dy="14.6">biosynthetic</tspan><tspan x="3526.5" dy="14.6">process</tspan></text></g>
<g id="n_umpmp" class="n"><rect x="3743" y="1079" width="104" height="49"/><text x="3795" y="1101.2">UMP metabolic<tspan x="3795" dy="14.6">process</tspan></text></g>
<g id="n_prnbp" class="n lb"><rect x="3883" y="1079" width="173" height="49"/><text x="3969.5" y="1093.9">pyrimidine ribonucleotide<tspan x="3969.5" dy="14.6">biosynthetic</tspan><tspan x="3969.5" dy="14.6">process</tspan></text></g>
<g id="n_udpmp" class="n"><rect x="4099" y="1079" width="103" height="49"/><text x="4150.5" y="1101.2">UDP metabolic<tspan x="4150.5" dy="14.6">process</tspan></text></g>
<g id="n_prdpbp" class="n"><rect x="4319" y="1072" width="175" height="64"/><text x="4406.5" y="1087.1">pyrimidine ribonucleoside<tspan x="4406.5" dy="14.6">diphosphate</tspan><tspan x="4406.5" dy="14.6">biosynthetic</tspan><tspan x="4406.5" dy="14.6">process</tspan></text></g>
<g id="n_umpbp" class="n"><rect x="3737" y="1184" width="118" height="48"/><text x="3796" y="1205.7">UMP biosynthetic<tspan x="3796" dy="14.6">process</tspan></text></g>
<g id="n_udpbp" class="n cb"><rect x="4092" y="1184" width="117" height="48"/><text x="4150.5" y="1205.7">UDP biosynthetic<tspan x="4150.5" dy="14.6">process</tspan></text></g>
<g id="n_dnump" class="n cb"><rect x="3747" y="1281" width="98" height="48"/><text x="3796" y="1295.4">'de novo' UMP<tspan x="3796" dy="14.6">biosynthetic</tspan><tspan x="3796" dy="14.6">process</tspan></text></g>
</g>
</svg>
